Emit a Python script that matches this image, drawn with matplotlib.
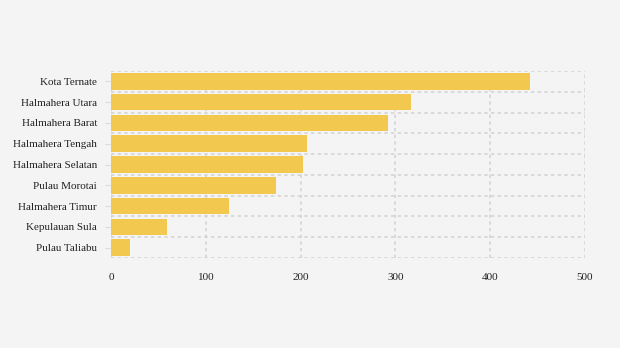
import matplotlib
matplotlib.use("Agg")
import matplotlib.pyplot as plt
import numpy as np

categories = ["Kota Ternate", "Halmahera Utara", "Halmahera Barat", "Halmahera Tengah",
              "Halmahera Selatan", "Pulau Morotai", "Halmahera Timur", "Kepulauan Sula",
              "Pulau Taliabu"]
values = [442, 316, 292, 207, 203, 174, 124, 59, 20]
xticks = [0, 100, 200, 300, 400, 500]

plt.rcParams['font.family'] = ['Liberation Serif', 'DejaVu Serif']
bg = "#f4f4f4"
fig = plt.figure(figsize=(6.2, 3.48), dpi=100, facecolor=bg)
ax = fig.add_axes([111/620, 1-258/348, 474/620, 187/348], facecolor=bg)

y = np.arange(len(categories))
ax.barh(y, values, height=0.8, color="#f2c94e", zorder=3)
ax.set_ylim(len(categories)-0.5, -0.5)
ax.set_xlim(0, 500)
ax.set_yticks(y)
ax.set_yticklabels(categories, fontsize=8, color="#222222", va='center_baseline')
ax.set_xticks(xticks)
ax.set_xticklabels([str(t) for t in xticks], fontsize=8, color="#222222")
ax.set_yticks(np.arange(len(categories)+1)-0.5, minor=True)
ax.tick_params(axis='y', which='major', length=4, color="#dddddd", pad=6)
ax.tick_params(axis='y', which='minor', length=0)
ax.tick_params(axis='x', which='major', length=0, pad=11)
ax.grid(axis='x', which='major', color="#d4d4d4", linestyle=(0, (2, 2)), linewidth=1.2, zorder=0)
ax.grid(axis='y', which='minor', color="#d4d4d4", linestyle=(0, (2, 2)), linewidth=1.2, zorder=0)
for s in ax.spines.values():
    s.set_visible(False)
fig.savefig("out.png", dpi=100, facecolor=bg)
